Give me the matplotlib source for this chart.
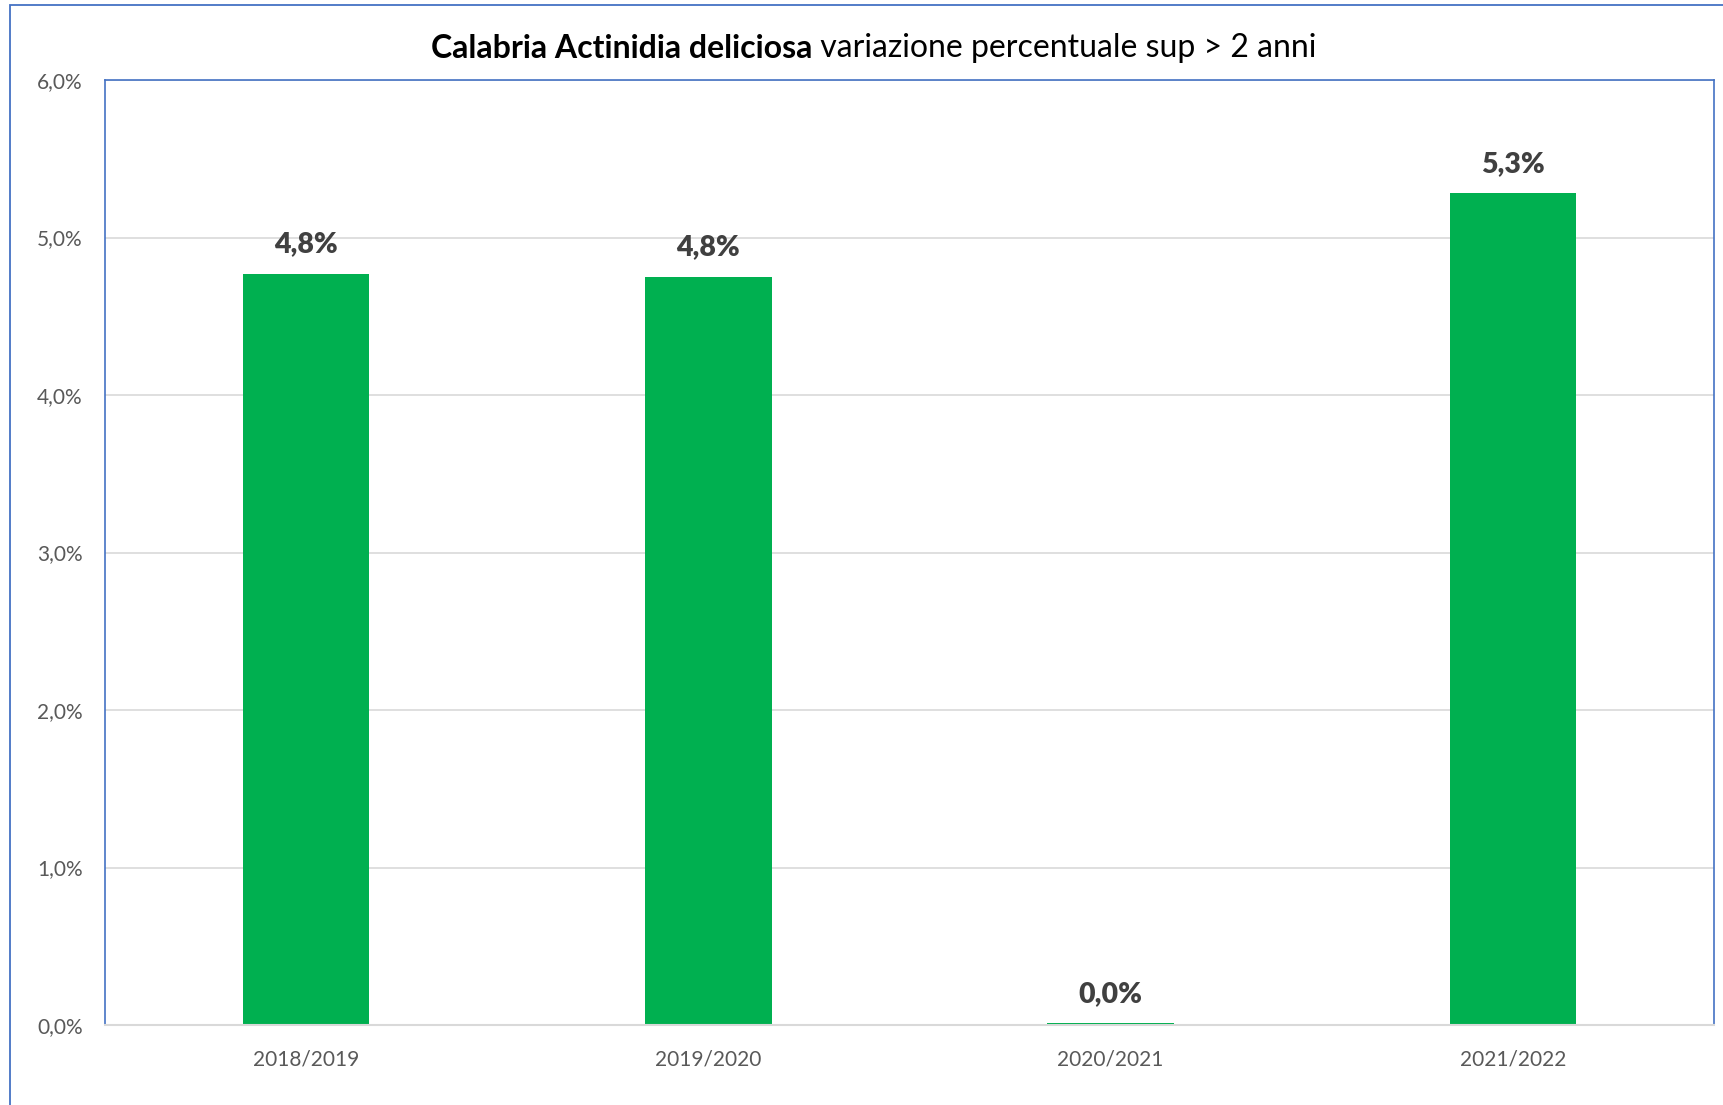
import matplotlib
matplotlib.use("Agg")
import matplotlib.pyplot as plt
from matplotlib.patches import Rectangle
import numpy as np

plt.rcParams["font.family"] = ["Lato", "DejaVu Sans"]

# data
seasons = ["2018/2019", "2019/2020", "2020/2021", "2021/2022"]
values = [4.77, 4.75, 0.01, 5.28]  # percent
labels = ["4,8%", "4,8%", "0,0%", "5,3%"]
yticks = [0, 1, 2, 3, 4, 5, 6]

W, H = 1723, 1105
fig = plt.figure(figsize=(W / 100, H / 100), dpi=100)
fig.patch.set_facecolor("white")

# outer chart frame (runs off right/bottom like the screenshot)
fig.patches.append(Rectangle((10 / W, -0.05), 1.2, 1 - 5 / H + 0.05,
                             transform=fig.transFigure, fill=False,
                             edgecolor="#4472C4", linewidth=1.3))

ax = fig.add_axes([105 / W, 1 - 1025 / H, (1714 - 105) / W, (1025 - 80) / H])
x = np.arange(len(seasons))
ax.bar(x, values, width=0.314, color="#00B050", zorder=3)

for xi, v, lab in zip(x, values, labels):
    ax.annotate(lab, (xi, v), xytext=(0, 12), textcoords="offset points",
                ha="center", va="bottom", fontsize=20.5, fontweight="heavy",
                color="#404040")

ax.set_xlim(-0.5, len(seasons) - 0.5)
ax.set_ylim(0, 6)
ax.set_yticks(yticks)
ax.set_yticklabels([f"{t},0%" for t in yticks], fontsize=15, color="#595959")
ax.set_xticks(x)
ax.set_xticklabels(seasons, fontsize=15, color="#595959")
ax.tick_params(axis="both", length=0)
ax.tick_params(axis="y", pad=16)
ax.tick_params(axis="x", pad=18)
ax.grid(axis="y", color="#D9D9D9", linewidth=1.2, zorder=0)

for side in ["left", "top", "right"]:
    ax.spines[side].set_color("#4472C4")
    ax.spines[side].set_linewidth(1.2)
ax.spines["bottom"].set_color("#D9D9D9")
ax.spines["bottom"].set_linewidth(1.5)
ax.spines["bottom"].set_zorder(4)

# title: bold part + regular part, centred together
ty = 1 - 48 / H
t1 = fig.text(0, ty, "Calabria Actinidia deliciosa", fontsize=23,
              fontweight="bold", va="center", color="black")
t2 = fig.text(0, ty, " variazione percentuale sup > 2 anni", fontsize=23,
              va="center", color="black")
fig.canvas.draw()
r = fig.canvas.get_renderer()
w1 = t1.get_window_extent(r).width / W
w2 = t2.get_window_extent(r).width / W
x0 = 874 / W - (w1 + w2) / 2
t1.set_x(x0)
t2.set_x(x0 + w1)

fig.savefig("out.png", dpi=100)
